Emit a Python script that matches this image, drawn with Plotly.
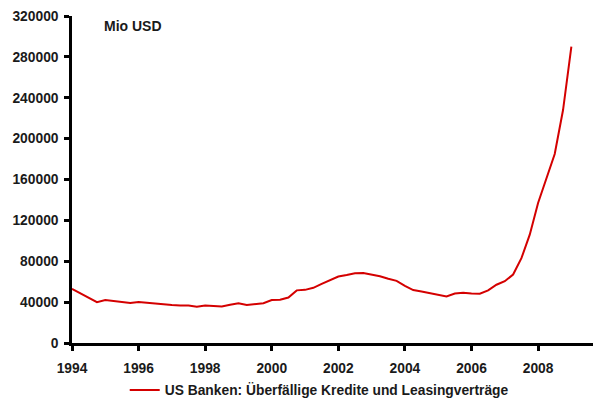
import plotly.graph_objects as go

years = [1994 + 0.25 * k for k in range(61)]
values = [
    53000, 48500, 44000, 40000,
    42000, 41300, 40300, 39200,
    40200, 39300, 38600, 37500,
    37300, 36800, 36800, 35500,
    36800, 36300, 35800, 37500,
    39000, 37200, 38300, 39000,
    42000, 42300, 44500, 51500,
    52000, 54000, 57800, 61500,
    65000, 66500, 68300, 68500,
    67000, 65300, 62800, 60800,
    56000, 51800, 50500, 48800,
    47200, 45500, 48500, 49200,
    48500, 48300, 51500, 57000,
    60500, 67000, 83000, 106000,
    137000, 162000, 185000, 228000,
    290000,
]
series_name = "US Banken: Überfällige Kredite und Leasingverträge"
x_ticks = [1994, 1996, 1998, 2000, 2002, 2004, 2006, 2008]
y_ticks = [0, 40000, 80000, 120000, 160000, 200000, 240000, 280000, 320000]

font_family = "Liberation Sans, Arial, sans-serif"
text_col = "#1a1a1a"

fig = go.Figure()
fig.add_trace(go.Scatter(
    x=years, y=values, mode="lines", name=series_name,
    line=dict(color="#d40000", width=2),
))

fig.update_layout(
    width=593, height=392,
    margin=dict(l=64, r=3, t=8, b=57, autoexpand=False),
    paper_bgcolor="white", plot_bgcolor="white",
    font=dict(family=font_family, size=13, color=text_col, weight="bold"),
    showlegend=True,
    legend=dict(orientation="h", x=0.47, xanchor="center", y=-0.144, yanchor="middle",
                font=dict(size=13.8, family=font_family, color=text_col, weight="bold"),
                itemwidth=30),
    annotations=[dict(text="Mio USD", x=0.057, y=1.0, xref="paper", yref="paper",
                      xanchor="left", yanchor="top", showarrow=False,
                      font=dict(size=14, family=font_family, color=text_col, weight="bold"))],
)
fig.update_xaxes(range=[1994, 2009.8], tickvals=x_ticks, ticktext=[str(t) for t in x_ticks],
                 automargin=False, ticklabelstandoff=6,
                 showgrid=False, zeroline=False, showline=True, linecolor="black", linewidth=2.5,
                 ticks="outside", ticklen=5, tickwidth=2.5, tickcolor="black",
                 tickfont=dict(size=13.8, family=font_family, color=text_col, weight="bold"))
fig.update_yaxes(range=[0, 320000], tickvals=y_ticks, ticktext=[str(t) for t in y_ticks],
                 automargin=False, ticklabelstandoff=3,
                 showgrid=False, zeroline=False, showline=True, linecolor="black", linewidth=2.5,
                 ticks="outside", ticklen=5, tickwidth=2.5, tickcolor="black",
                 tickfont=dict(size=13.8, family=font_family, color=text_col, weight="bold"))

fig.write_html("out.html")
